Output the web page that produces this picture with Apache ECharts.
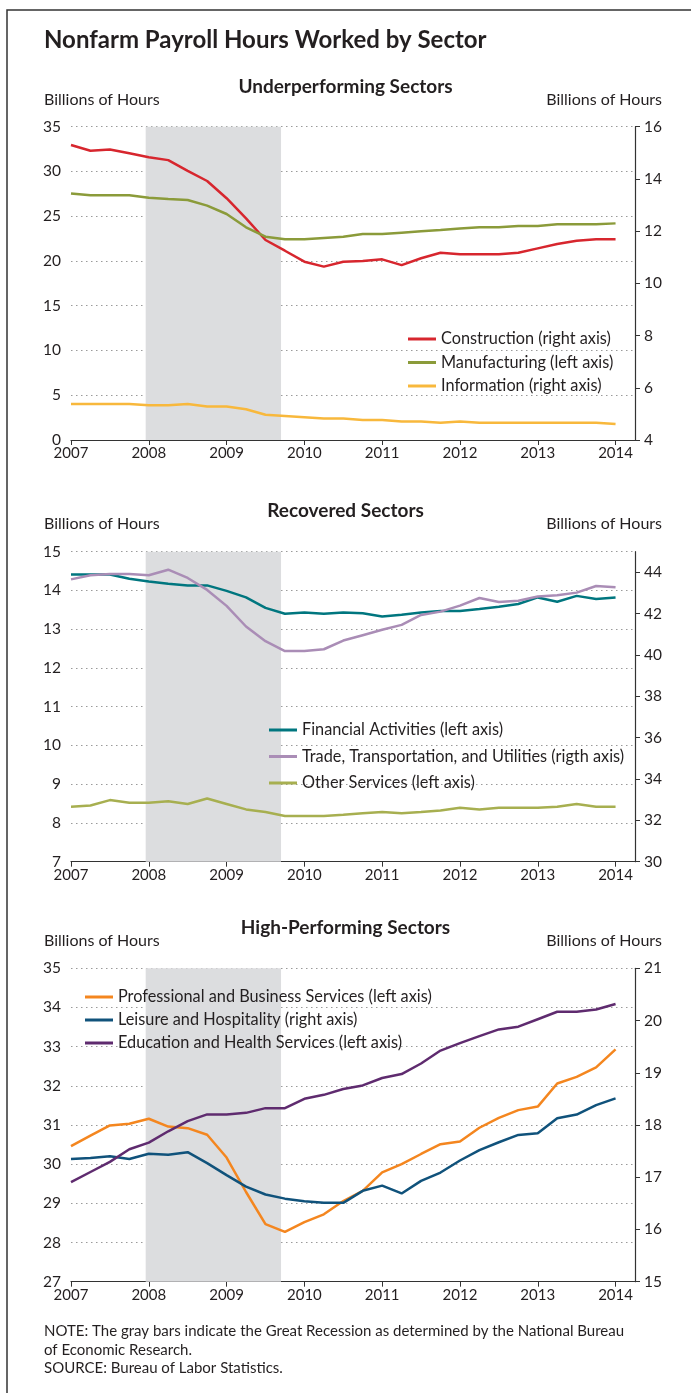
<!DOCTYPE html>
<html><head><meta charset="utf-8">
<script src="https://cdn.jsdelivr.net/npm/echarts@6/dist/echarts.min.js"></script>
<style>html,body{margin:0;padding:0;background:#fff}#c{width:691px;height:1393px}</style>
</head><body><div id="c"></div>
<script>
const quarters = [2007,2007.25,2007.5,2007.75,2008,2008.25,2008.5,2008.75,2009,2009.25,2009.5,2009.75,2010,2010.25,2010.5,2010.75,2011,2011.25,2011.5,2011.75,2012,2012.25,2012.5,2012.75,2013,2013.25,2013.5,2013.75,2014];
const yearTicks = [2007,2008,2009,2010,2011,2012,2013,2014];
const recession = [2007.96, 2009.7];

const construction = [15.30,15.08,15.13,14.98,14.83,14.72,14.31,13.92,13.26,12.49,11.66,11.25,10.83,10.64,10.83,10.86,10.92,10.70,10.96,11.17,11.11,11.11,11.11,11.17,11.34,11.51,11.63,11.69,11.69];
const manufacturing = [27.55,27.33,27.33,27.33,27.07,26.92,26.81,26.18,25.25,23.76,22.71,22.42,22.42,22.57,22.71,23.01,23.01,23.16,23.31,23.46,23.64,23.76,23.76,23.91,23.91,24.09,24.09,24.09,24.20];
const information = [5.38,5.38,5.38,5.38,5.33,5.33,5.38,5.28,5.28,5.18,4.97,4.92,4.87,4.82,4.82,4.77,4.77,4.71,4.71,4.66,4.71,4.66,4.66,4.66,4.66,4.66,4.66,4.66,4.61];

const financial = [14.41,14.41,14.41,14.30,14.23,14.17,14.13,14.13,13.99,13.82,13.55,13.40,13.43,13.40,13.43,13.41,13.33,13.37,13.43,13.47,13.47,13.52,13.58,13.65,13.82,13.71,13.86,13.78,13.82];
const trade = [43.66,43.86,43.92,43.92,43.86,44.13,43.73,43.15,42.38,41.38,40.67,40.19,40.19,40.28,40.70,40.96,41.22,41.46,41.94,42.10,42.39,42.76,42.57,42.63,42.83,42.89,43.02,43.34,43.28];
const otherServices = [8.42,8.45,8.59,8.52,8.52,8.56,8.49,8.63,8.49,8.35,8.28,8.18,8.18,8.18,8.21,8.25,8.28,8.25,8.28,8.32,8.39,8.35,8.39,8.39,8.39,8.42,8.49,8.42,8.42];

const professional = [30.46,30.73,30.99,31.03,31.16,30.96,30.92,30.75,30.17,29.29,28.47,28.27,28.52,28.72,29.06,29.32,29.79,30.00,30.26,30.51,30.58,30.93,31.18,31.38,31.47,32.06,32.23,32.47,32.93];
const leisure = [17.35,17.37,17.40,17.35,17.45,17.43,17.48,17.27,17.04,16.82,16.67,16.59,16.54,16.51,16.51,16.74,16.84,16.69,16.93,17.09,17.32,17.52,17.67,17.81,17.84,18.13,18.20,18.38,18.51];
const education = [29.54,29.80,30.06,30.38,30.55,30.84,31.10,31.27,31.27,31.31,31.43,31.43,31.67,31.77,31.92,32.01,32.20,32.30,32.57,32.90,33.09,33.27,33.44,33.51,33.70,33.89,33.89,33.95,34.09];

const rightTicks2 = [30,32,34,36,38,40,42,44];

const FONT = 'Lato';
const TXT = '#231f20';
const chart = echarts.init(document.getElementById('c'));

const grids = [
  {left:71, right:56, top:126.7, height:313.3},
  {left:71, right:56, top:551.7, height:310},
  {left:71, right:56, top:968.3, height:313.4}
];

function xAxis(i){
  return {type:'value', gridIndex:i, min:2007, max:2014.25,
    axisLine:{show:true, lineStyle:{color:'#333', width:1.2}},
    axisTick:{show:true, length:5, lineStyle:{color:'#333'}, customValues:yearTicks},
    axisLabel:{customValues:yearTicks, color:TXT, fontFamily:FONT, fontSize:15, margin:6, formatter:v=>String(v)},
    splitLine:{show:false}};
}
function leftAxis(i,min,max,interval){
  return {type:'value', gridIndex:i, position:'left', min, max, interval,
    axisLine:{show:false}, axisTick:{show:false},
    axisLabel:{color:TXT, fontFamily:FONT, fontSize:15.5, margin:10},
    splitLine:{show:true, lineStyle:{type:[1.5,3.5], color:'#9a9a9a', width:1}}};
}
function rightAxis(i,min,max,interval,custom){
  const a = {type:'value', gridIndex:i, position:'right', min, max, interval,
    axisLine:{show:true, lineStyle:{color:'#333', width:1.2}},
    axisTick:{show:true, length:5, lineStyle:{color:'#333'}},
    axisLabel:{color:TXT, fontFamily:FONT, fontSize:15.5, margin:9},
    splitLine:{show:false}};
  if(custom){ a.axisTick.customValues = custom; a.axisLabel.customValues = custom; }
  return a;
}
function line(name, data, xi, yi, color, withArea){
  const s = {name, type:'line', xAxisIndex:xi, yAxisIndex:yi,
    data: quarters.map((q,k)=>[q, data[k]]), symbol:'none',
    lineStyle:{color, width:2.5}, itemStyle:{color}, z:3};
  if(withArea){
    s.markArea = {silent:true, itemStyle:{color:'#dcdddf'}, data:[[{xAxis:recession[0]},{xAxis:recession[1]}]]};
  }
  return s;
}
function legend(names, left, top, gap){
  return {data:names, orient:'vertical', left, top, padding:0, icon:'rect', itemWidth:28, itemHeight:3,
    itemGap:gap, textStyle:{fontFamily:FONT, fontSize:16.3, color:TXT, lineHeight:20}, selectedMode:false};
}
function text(x,y,str,opts){
  return {type:'text', left:x, top:y, style:Object.assign({text:str, fill:TXT, font:'16px '+FONT}, opts||{})};
}
function rtext(y,str){
  return {type:'text', right:29, top:y, style:{text:str, fill:TXT, font:'16px '+FONT}};
}
function ctext(y,str){
  return {type:'text', left:'center', top:y, style:{text:str, fill:TXT, font:'bold 19px '+FONT}};
}

const option = {
  animation:false,
  grid:grids,
  xAxis:[xAxis(0),xAxis(1),xAxis(2)],
  yAxis:[
    leftAxis(0,0,35,5), rightAxis(0,4,16,2),
    leftAxis(1,7,15,1), rightAxis(1,30,45,2,rightTicks2),
    leftAxis(2,27,35,1), rightAxis(2,15,21,1)
  ],
  legend:[
    legend(['Construction (right axis)','Manufacturing (left axis)','Information (right axis)'],408,329,3.5),
    legend(['Financial Activities (left axis)','Trade, Transportation, and Utilities (rigth axis)','Other Services (left axis)'],269,720,6.5),
    legend(['Professional and Business Services (left axis)','Leisure and Hospitality (right axis)','Education and Health Services (left axis)'],85,987,3)
  ],
  series:[
    line('Construction (right axis)', construction, 0, 1, '#d7262e', true),
    line('Manufacturing (left axis)', manufacturing, 0, 0, '#8b9b3a'),
    line('Information (right axis)', information, 0, 1, '#f8b83c'),
    line('Financial Activities (left axis)', financial, 1, 2, '#00767f', true),
    line('Trade, Transportation, and Utilities (rigth axis)', trade, 1, 3, '#aa8db6'),
    line('Other Services (left axis)', otherServices, 1, 2, '#a7af50'),
    line('Professional and Business Services (left axis)', professional, 2, 4, '#f4861f', true),
    line('Leisure and Hospitality (right axis)', leisure, 2, 5, '#10527b'),
    line('Education and Health Services (left axis)', education, 2, 4, '#5f2b6f')
  ],
  graphic:[
    {type:'rect', shape:{x:7, y:10, width:700, height:1400}, style:{fill:'none', stroke:'#333', lineWidth:1.5}, silent:true},
    text(44,28,'Nonfarm Payroll Hours Worked by Sector',{font:'bold 24px '+FONT}),
    ctext(77,'Underperforming Sectors'),
    text(44,92,'Billions of Hours'),
    rtext(92,'Billions of Hours'),
    ctext(501,'Recovered Sectors'),
    text(44,516,'Billions of Hours'),
    rtext(516,'Billions of Hours'),
    ctext(918,'High-Performing Sectors'),
    text(44,933,'Billions of Hours'),
    rtext(933,'Billions of Hours'),
    text(44,1324,'NOTE: The gray bars indicate the Great Recession as determined by the National Bureau',{font:'15px '+FONT}),
    text(44,1342.5,'of Economic Research.',{font:'15px '+FONT}),
    text(44,1361,'SOURCE: Bureau of Labor Statistics.',{font:'15px '+FONT})
  ]
};
chart.setOption(option);
</script></body></html>
